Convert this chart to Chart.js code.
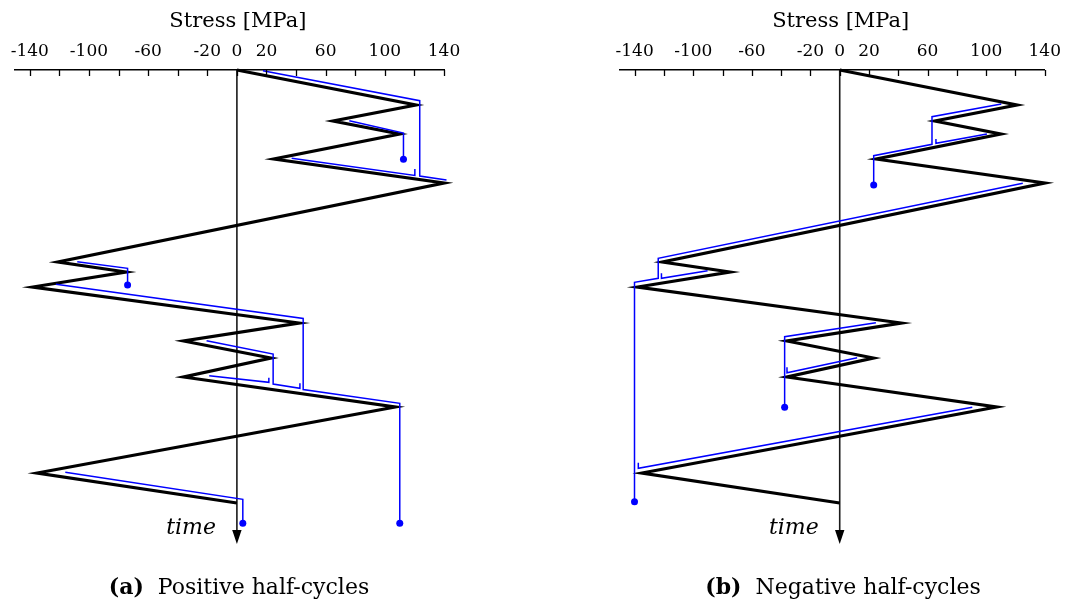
<!DOCTYPE html>
<html lang="en">
<head>
<meta charset="UTF-8">
<title>Rainflow half-cycles</title>
<script src="https://cdn.jsdelivr.net/npm/chart.js"></script>
<style>
    body {
        margin: 0;
        background: #fff;
        width: 1069px;
        height: 605px;
        position: relative;
        overflow: hidden;
        font-family: "DejaVu Serif", serif;
    }

    .panel {
        position: absolute;
        top: 0;
        height: 605px;
    }

    #panelA { left: 0; width: 470px; }
    #panelB { left: 600px; width: 469px; }

    .caption {
        position: absolute;
        top: 573px;
        font-size: 22px;
        white-space: nowrap;
        transform: translateX(-50%);
        color: #000;
    }
</style>
</head>
<body>
    <div class="panel" id="panelA"><canvas id="chartA"></canvas></div>
    <div class="panel" id="panelB"><canvas id="chartB"></canvas></div>
    <div class="caption" style="left:239px"><b>(a)</b>&nbsp; Positive half-cycles</div>
    <div class="caption" style="left:843px"><b>(b)</b>&nbsp; Negative half-cycles</div>

<script>
// load history: reversal points (stress in MPa, time going down)
const stress = [0, 121, 65, 110, 25, 140, -121, -75, -138, 42, -36, 23, -36, 107, -135, 0];
const time   = [0, 3.5, 5.1, 6.4, 8.9, 11.3, 19.2, 20.2, 21.7, 25.3, 27.1, 28.8, 30.7, 33.7, 40.3, 43.3];
const timeEnd = 47.4;

// stress axis
const tickValues = [-140, -120, -100, -80, -60, -40, -20, 0, 20, 40, 60, 80, 100, 120, 140];
const tickLabels = ['-140', '-100', '-60', '-20', '0', '20', '60', '100', '140'];

// (a) positive half-cycles: rain flow paths
const posStress = [
    [17.6, 123.6, 123.6, 141.7, 141.7],
    [76, 112.6, 112.6],
    [37, 120.3, 120.3],
    [-107.9, -73.9, -73.9],
    [-122.3, 44.8, 44.8, 110.1, 110.1],
    [-20.5, 24.5, 24.5, 42.6, 42.6],
    [-18.7, 21.6, 21.6],
    [-116, 4, 4]
];
const posTime = [
    [0.07, 3.07, 10.6, 11.0, 19.1],
    [5.07, 6.3, 8.93],
    [8.83, 10.55, 9.9],
    [19.17, 19.83, 21.5],
    [21.43, 24.85, 31.95, 33.33, 45.33],
    [27.07, 28.4, 31.4, 31.83, 31.33],
    [30.57, 31.23, 30.77],
    [40.23, 42.93, 45.33]
];
const posEnds = [true, true, false, true, true, false, false, true];

// (b) negative half-cycles
const negStress = [
    [110.3, 63, 63, 23.2, 23.2],
    [100.5, 65.7, 65.7],
    [125, -123.9, -123.9, -140.1, -140.1],
    [-90.2, -121.7, -121.7],
    [24.7, -37.6, -37.6],
    [11.9, -36, -36],
    [90.5, -137.5, -137.5]
];
const negTime = [
    [3.4, 4.67, 7.43, 8.57, 11.5],
    [6.4, 7.33, 6.9],
    [11.33, 18.83, 20.83, 21.23, 43.17],
    [20.07, 20.83, 20.33],
    [25.27, 26.67, 33.73],
    [28.77, 30.27, 29.73],
    [33.73, 39.83, 39.27]
];
const negEnds = [true, false, true, false, true, false, false];

const toPoints = (xs, ts) => xs.map((x, i) => ({ x: x, y: ts[i] }));

// tick marks hanging under the axis, arrow, axis title and "time"
const extras = {
    id: 'extras',
    afterDraw(chart) {
        const ctx = chart.ctx;
        const xs = chart.scales.x, ys = chart.scales.y;
        const top = chart.chartArea.top;
        ctx.save();
        ctx.strokeStyle = '#000';
        ctx.lineWidth = 1.3;
        tickValues.forEach(v => {
            const px = Math.round(xs.getPixelForValue(v)) + 0.5;
            ctx.beginPath();
            ctx.moveTo(px, top);
            ctx.lineTo(px, top + 6);
            ctx.stroke();
        });
        // arrow head of the time axis
        const x0 = xs.getPixelForValue(0);
        const yTip = ys.getPixelForValue(timeEnd);
        ctx.fillStyle = '#000';
        ctx.beginPath();
        ctx.moveTo(x0, yTip);
        ctx.lineTo(x0 - 4.7, yTip - 14);
        ctx.lineTo(x0 + 4.7, yTip - 14);
        ctx.closePath();
        ctx.fill();
        // labels
        ctx.textAlign = 'center';
        ctx.textBaseline = 'alphabetic';
        ctx.font = '21px "DejaVu Serif"';
        ctx.fillText('Stress [MPa]', x0 + 1, 27);
        ctx.textAlign = 'right';
        ctx.font = 'italic 22px "DejaVu Serif"';
        ctx.fillText('time', x0 - 21, 534);
        ctx.restore();
    }
};

function makeChart(id, pathS, pathT, ends, pad) {
    const datasets = pathS.map((xs, k) => ({
        data: toPoints(xs, pathT[k]),
        showLine: true,
        borderColor: '#0000ff',
        backgroundColor: '#0000ff',
        borderWidth: 1.5,
        pointRadius: ctx => (ends[k] && ctx.dataIndex === xs.length - 1) ? 3.5 : 0,
        pointBorderWidth: 0,
        clip: false
    }));
    datasets.push({
        data: toPoints(stress, time),
        showLine: true,
        borderColor: '#000',
        borderWidth: 3.2,
        borderJoinStyle: 'miter',
        pointRadius: 0,
        clip: false
    });
    datasets.push({
        data: [{ x: 0, y: 0 }, { x: 0, y: timeEnd - 1.3 }],
        showLine: true,
        borderColor: '#1a1a1a',
        borderWidth: 1.6,
        pointRadius: 0,
        clip: false
    });

    return new Chart(document.getElementById(id), {
        type: 'scatter',
        data: { datasets: datasets },
        options: {
            responsive: true,
            maintainAspectRatio: false,
            animation: false,
            events: [],
            layout: { padding: { left: pad[0], right: pad[1], top: 0, bottom: 61 } },
            plugins: { legend: { display: false }, tooltip: { enabled: false } },
            scales: {
                x: {
                    type: 'linear',
                    position: 'top',
                    min: -150,
                    max: 140,
                    afterBuildTicks: scale => { scale.ticks = tickValues.map(v => ({ value: v })); },
                    afterFit: scale => { scale.height = 70; },
                    ticks: {
                        autoSkip: false,
                        maxRotation: 0,
                        padding: 8,
                        color: '#000',
                        font: { family: 'DejaVu Serif', size: 17 },
                        callback: v => tickLabels.includes(String(v)) ? String(v) : ''
                    },
                    grid: { display: false, drawTicks: false },
                    border: { display: true, color: '#000', width: 1.5 }
                },
                y: {
                    type: 'linear',
                    display: false,
                    reverse: true,
                    min: 0,
                    max: timeEnd
                }
            }
        },
        plugins: [extras]
    });
}

makeChart('chartA', posStress, posTime, posEnds, [15, 26]);
makeChart('chartB', negStress, negTime, negEnds, [20, 20]);
</script>
</body>
</html>
